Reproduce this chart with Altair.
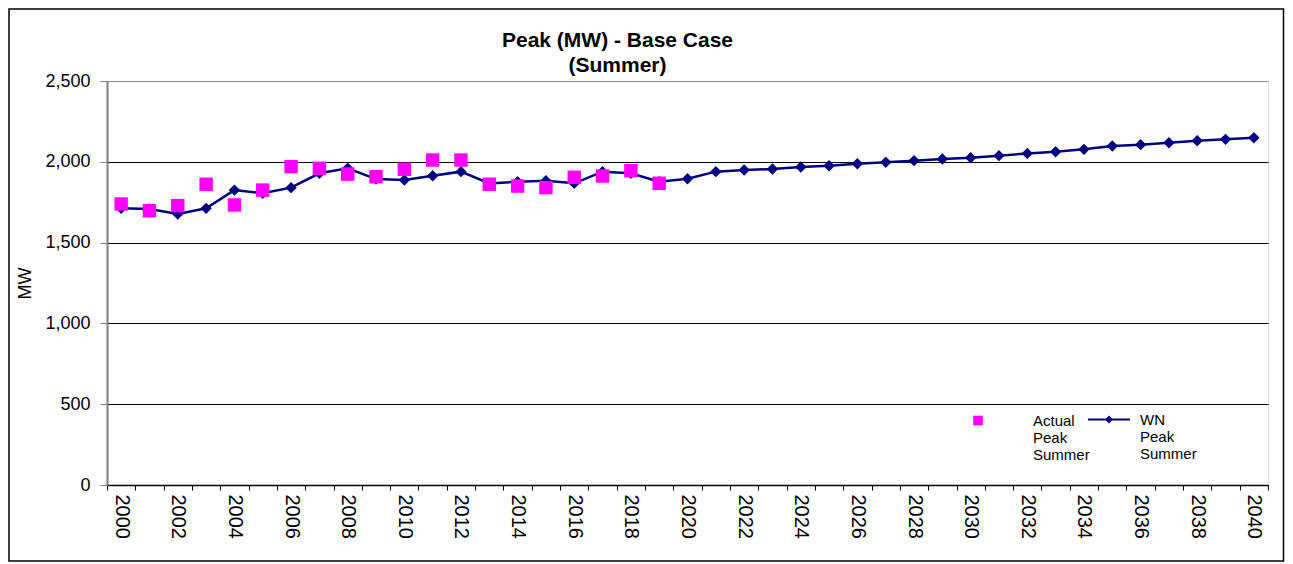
import altair as alt
import pandas as pd

years = [str(y) for y in range(2000, 2041)]
wn_peak = [1712, 1708, 1677, 1712, 1825, 1805, 1840, 1929, 1960, 1893, 1887,
           1914, 1939, 1866, 1877, 1883, 1867, 1939, 1929, 1877, 1895,
           1939, 1949, 1955, 1968, 1976, 1988, 1997, 2007, 2017, 2025,
           2038, 2052, 2062, 2077, 2098, 2106, 2118, 2130, 2139, 2149]
actual_years = years[:20]
actual_peak = [1739, 1697, 1729, 1861, 1733, 1825, 1970, 1960, 1924, 1908,
               1954, 2011, 2011, 1861, 1850, 1840, 1904, 1912, 1945, 1867]
y_ticks = [0, 500, 1000, 1500, 2000, 2500]

wn_df = pd.DataFrame({"Year": years, "MW": wn_peak, "Series": "WN Peak Summer"})
act_df = pd.DataFrame({"Year": actual_years, "MW": actual_peak, "Series": "Actual Peak Summer"})

FONT = "Liberation Sans"
NAVY = "#000080"
MAGENTA = "#FF00FF"

x_enc = alt.X(
    "Year:O",
    sort=years,
    scale=alt.Scale(type="band", domain=years, paddingInner=0, paddingOuter=0),
    axis=alt.Axis(
        title=None, labelAngle=90,
        labelExpr="toNumber(datum.value) % 2 == 0 ? datum.value : ''",
        labelFontSize=20, labelFont=FONT, labelColor="black", labelPadding=4,
        labelOverlap=False, tickBand="extent", tickSize=5, tickColor="black",
        domainColor="black", domainWidth=1.5, grid=False,
    ),
)
y_enc = alt.Y(
    "MW:Q",
    scale=alt.Scale(domain=[0, 2500], nice=False, zero=True),
    axis=alt.Axis(
        title="MW", values=y_ticks, format=",.0f", grid=True,
        gridColor={"condition": {"test": "datum.value == 2500", "value": "#8c8c8c"}, "value": "black"},
        gridWidth=1, tickSize=7, tickColor="#808080", domainColor="#808080", domainWidth=2,
        labelFontSize=18, labelFont=FONT, labelColor="black", labelPadding=10,
        titleFontSize=18, titleFont=FONT, titleFontWeight="normal", titleColor="black",
        titlePadding=10,
    ),
)

# legend symbols: square / line-with-diamond, drawn slightly below the nominal centre
SQUARE_SYM = "M-0.48,0.17L0.48,0.17L0.48,1.13L-0.48,1.13Z"
DIAMOND_LINE = "M-1,0.26L1,0.26L1,0.36L-1,0.36Z M0,0.12L0.19,0.31L0,0.5L-0.19,0.31Z"

border = alt.Chart(pd.DataFrame({"a": [0]})).mark_rect(
    filled=False, stroke="black", strokeWidth=1.5
).encode(x=alt.value(-98), x2=alt.value(1176.5), y=alt.value(-72), y2=alt.value(480))

line = alt.Chart(wn_df).mark_line(color=NAVY, strokeWidth=2.5).encode(x=x_enc, y=y_enc)

diamonds = alt.Chart(wn_df).mark_point(shape="diamond", filled=True, size=130, opacity=1).encode(
    x=x_enc, y=y_enc,
    color=alt.Color(
        "Series:N",
        scale=alt.Scale(domain=["WN Peak Summer"], range=[NAVY]),
        legend=alt.Legend(
            title=None, orient="none", legendX=981, legendY=311,
            symbolType=DIAMOND_LINE, symbolSize=1764, symbolStrokeWidth=0,
            labelFontSize=15, labelFont=FONT, labelColor="black",
            labelExpr="split(datum.label, ' ')", labelOffset=10,
            labelBaseline="top", padding=0, labelLimit=300,
        ),
    ),
)

squares = alt.Chart(act_df).mark_square(size=180, opacity=1).encode(
    x=x_enc, y=y_enc,
    fill=alt.Fill(
        "Series:N",
        scale=alt.Scale(domain=["Actual Peak Summer"], range=[MAGENTA]),
        legend=alt.Legend(
            title=None, orient="none", legendX=861, legendY=323,
            symbolType=SQUARE_SYM, symbolSize=400, symbolStrokeWidth=0,
            labelFontSize=15, labelFont=FONT, labelColor="black",
            labelExpr="split(datum.label, ' ')", labelOffset=45,
            labelBaseline="top", padding=0, labelLimit=300,
        ),
    ),
)

chart = alt.layer(border, line, diamonds, squares).properties(
    width=1161, height=404,
    title=alt.TitleParams(
        ["Peak (MW) - Base Case", "(Summer)"], fontSize=21, font=FONT, fontWeight="bold",
        anchor="middle", frame="group", dx=-70, dy=76, offset=8, lineHeight=25, color="black",
    ),
    autosize=alt.AutoSizeParams(type="none"),
    padding={"left": 99, "top": 73, "right": 17, "bottom": 78},
).configure_view(stroke="#8c8c8c", strokeWidth=2).configure(background="white")

chart.save("out.html", embed_options={"renderer": "svg", "actions": False})
